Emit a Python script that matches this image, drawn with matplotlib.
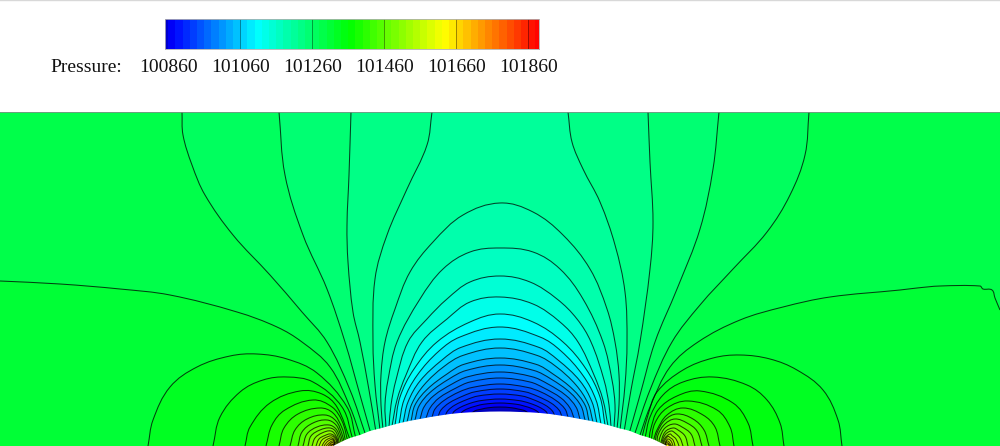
import numpy as np
import matplotlib
matplotlib.use('Agg')
import matplotlib.pyplot as plt
from matplotlib.colors import LinearSegmentedColormap, Normalize
from matplotlib.lines import Line2D
from matplotlib.patches import PathPatch
from matplotlib.path import Path

plt.rcParams['font.family'] = ['Liberation Serif', 'DejaVu Serif']

# colour bar
bar_ticks = [100860, 101060, 101260, 101460, 101660, 101860]
bar_edges = [100851] + list(range(100860, 101881, 20)) + [101890]
cmap_values = [100851, 100872, 101107, 101365, 101627, 101890]
cmap_colors = ['#0000c0', '#0000ff', '#00ffff', '#00ff00', '#ffff00', '#ff0000']
background_band = (101300, 101320)

# bump surface, left foot to right foot
surface = [(333, 446), (340, 442.5), (350, 438), (360, 435), (370, 431), (380, 428.5), (400, 423), (420, 419),
           (440, 415.5), (460, 413), (480, 412), (500, 411.5), (520, 412), (540, 413), (560, 415.5), (580, 419),
           (600, 423), (620, 428.5), (630, 431), (640, 435), (650, 438), (660, 442.5), (667, 446)]

# low pressure lobes above the bump
p100860 = [(470, 414.5), (475, 410.8), (482, 409), (488, 407.8), (500, 407), (512, 407.8), (518, 409), (525, 410.8), (530, 414.5)]
p100880 = [(460, 415), (462, 412), (467, 409), (476, 406), (484, 404.2), (500, 403), (516, 404.2), (524, 406), (533, 409),
           (538, 412), (540, 415)]
p100900 = [(452, 415.5), (454, 411.5), (461, 407), (471, 403), (481, 400.6), (500, 399), (519, 400.6), (529, 403), (539, 407),
           (546, 411.5), (548, 415.5)]
p100920 = [(445, 416), (448, 410.5), (455, 405), (467, 399.5), (478, 396), (500, 394), (522, 396), (533, 399.5), (545, 405),
           (552, 410.5), (555, 416)]
p100940 = [(438, 416.5), (441, 410), (449, 403), (463, 396), (475, 391.8), (500, 389), (525, 391.8), (537, 396), (551, 403),
           (559, 410), (562, 416.5)]
p100960 = [(432, 417), (435, 409), (444, 400.5), (459, 392), (473, 387.3), (500, 384), (527, 387.3), (541, 392), (556, 400.5),
           (565, 409), (568, 417)]
p100980 = [(426, 418), (430, 408), (439, 398), (456, 388), (470, 382), (500, 378), (530, 382), (544, 388), (561, 398),
           (570, 408), (574, 418)]
p101000 = [(420, 419), (424, 407), (434, 395.5), (452, 384), (468, 376.7), (500, 372), (532, 376.7), (548, 384), (566, 395.5),
           (576, 407), (580, 419)]
p101020 = [(415, 420), (419, 406), (430, 392.5), (449, 379), (466, 370.5), (500, 365), (534, 370.5), (551, 379), (570, 392.5),
           (581, 406), (585, 420)]
p101040 = [(411, 421), (415, 405), (427, 389.5), (447, 374), (464, 364.3), (500, 358), (536, 364.3), (553, 374), (573, 389.5),
           (585, 405), (589, 421)]
p101060 = [(407, 422), (412, 403.5), (424, 385), (444, 366.5), (463, 355.4), (500, 348), (537, 355.4), (556, 366.5), (576, 385),
           (588, 403.5), (593, 422)]
p101080 = [(403, 423), (408, 402), (420, 381), (442, 360), (461, 347.4), (500, 339), (539, 347.4), (558, 360), (580, 381),
           (592, 402), (597, 423)]
p101100 = [(399, 424), (404, 400), (417, 375.5), (439, 351), (460, 337), (500, 327), (540, 337), (561, 351), (583, 375.5),
           (596, 400), (601, 424)]
p101120 = [(395, 425), (400, 397), (414, 369), (437, 342), (470, 322), (500, 314), (533, 322), (563, 342), (586, 369),
           (600, 397), (605, 425)]
p101140 = [(392, 426), (397, 400), (406, 375), (422, 342), (447, 319), (470, 302), (500, 297), (533, 304), (560, 322),
           (578, 342), (594, 375), (603, 400), (608, 426)]
p101160 = [(389, 427), (391, 405), (396, 380), (408, 342), (427, 319), (447, 299), (470, 282), (500, 276), (530, 282),
           (557, 299), (577, 319), (591, 342), (604, 380), (609, 405), (611, 427)]
p101180 = [(386, 428), (385, 405), (388, 380), (397, 342), (420, 299), (443, 269), (470, 252), (500, 248), (533, 252),
           (560, 269), (583, 299), (603, 342), (612, 380), (615, 405), (614, 428)]
p101200 = [(383, 429), (381, 405), (381, 375), (385, 342), (395, 309), (410, 272), (433, 242), (463, 215), (500, 203),
           (533, 212), (563, 235), (590, 269), (607, 309), (615, 342), (619, 375), (619, 405), (617, 429)]
lobes = [(101200, p101200), (101180, p101180), (101160, p101160), (101140, p101140), (101120, p101120),
         (101100, p101100), (101080, p101080), (101060, p101060), (101040, p101040), (101020, p101020),
         (101000, p101000), (100980, p100980), (100960, p100960), (100940, p100940), (100920, p100920),
         (100900, p100900), (100880, p100880), (100860, p100860)]

# lines that leave through the top edge, or the sides
p101300_l = [(0, 281), (60, 284), (120, 289), (170, 295), (237, 312), (277, 327), (302, 342), (330, 367), (350, 407), (361, 438)]
p101300_r = [(1000, 310), (995, 298), (992, 290), (983, 289), (980, 286), (940, 286), (917, 288), (900, 290), (830, 297),
             (783, 307), (740, 320), (698, 342), (670, 367), (650, 407), (639, 438)]
p101280_l = [(182, 112), (183, 135), (192, 165), (205, 195), (233, 235), (270, 275), (302, 312), (327, 342), (350, 390), (366, 436)]
p101280_r = [(809, 112), (805, 155), (790, 195), (767, 232), (733, 269), (700, 305), (672, 342), (650, 390), (634, 436)]
p101260_l = [(279, 112), (285, 175), (303, 235), (327, 289), (345, 342), (360, 395), (371, 434)]
p101260_r = [(719, 112), (713, 169), (700, 229), (677, 289), (655, 342), (640, 395), (629, 434)]
p101240_l = [(351, 112), (349, 175), (347, 225), (348, 262), (353, 312), (360, 342), (369, 390), (376, 432)]
p101240_r = [(648, 112), (650, 162), (653, 222), (650, 269), (640, 342), (631, 390), (624, 432)]
p101220_l = [(432, 112), (427, 145), (407, 189), (387, 235), (375, 279), (373, 342), (375, 385), (380, 430)]
p101220_r = [(568, 112), (572, 142), (583, 169), (600, 202), (615, 245), (625, 292), (627, 342), (625, 385), (620, 430)]
open_lines = [(101300, p101300_l, p101300_r), (101280, p101280_l, p101280_r), (101260, p101260_l, p101260_r),
              (101240, p101240_l, p101240_r), (101220, p101220_l, p101220_r)]

# high pressure arcs round the left foot
a101320 = [(148, 446), (153, 420), (170, 387), (197, 367), (230, 356), (257, 354), (287, 359), (317, 373), (347, 407), (356, 439)]
a101340 = [(213, 446), (220, 417), (240, 392), (263, 380), (287, 377), (313, 382), (342, 407), (353, 440)]
a101360 = [(245, 446), (250, 427), (270, 403), (300, 391), (322, 394), (337, 407), (350.5, 441)]
a101380 = [(266, 446), (272, 425), (285, 410), (313, 400), (332, 407), (342, 421), (348, 442)]
a101400 = [(279, 446), (284, 428), (298, 414), (320, 408), (333, 413), (342, 428), (346, 443)]
a101420 = [(290, 446), (295, 430), (307, 419), (325, 415), (336, 421), (342, 434), (344.5, 444)]
a101440 = [(298, 446), (302, 432), (313, 423), (327, 420), (336, 425), (341, 436), (343, 444)]
a101460 = [(303, 446), (307, 434), (317, 427), (329, 425), (336, 429), (340, 438), (341.5, 445)]
a101480 = [(308, 446), (311, 436), (320, 430), (330, 428), (336, 432), (340, 445)]
a101500 = [(312, 446), (315, 438), (322, 433), (331, 431), (336, 436), (339, 445)]
a101520 = [(316, 446), (319, 439), (325, 435.5), (331, 434), (336, 438), (338, 445)]
a101540 = [(319, 446), (322, 440), (327, 437), (332, 436), (336, 440), (337, 445)]
a101560 = [(322, 446), (325, 441), (329, 438.5), (332, 438), (335, 441), (336, 445.5)]
a101580 = [(324, 446), (327, 442), (330, 440), (333, 439.5), (335, 445.5)]
a101600 = [(326, 446), (329, 443), (332, 441), (334, 441.5), (335, 446)]
a101620 = [(328, 446), (331, 443), (333, 442.5), (334.5, 446)]
a101640 = [(329.5, 446), (332, 444), (334, 446)]
a101660 = [(331, 446), (333, 444.5), (334, 446)]
left_arcs = [(101320, a101320), (101340, a101340), (101360, a101360), (101380, a101380), (101400, a101400),
             (101420, a101420), (101440, a101440), (101460, a101460), (101480, a101480), (101500, a101500),
             (101520, a101520), (101540, a101540), (101560, a101560), (101580, a101580), (101600, a101600),
             (101620, a101620), (101640, a101640), (101660, a101660)]

# and round the right foot
b101320 = [(842, 446), (838, 420), (823, 390), (797, 370), (770, 359), (740, 355), (713, 358), (683, 370), (657, 392),
           (648, 415), (642, 437)]
b101340 = [(784, 446), (780, 423), (767, 400), (747, 385), (713, 377), (683, 382), (663, 395), (650, 417), (645, 438)]
b101360 = [(753, 446), (748, 423), (733, 403), (700, 391), (677, 396), (658, 410), (650.5, 430), (649, 440)]
b101380 = [(734, 446), (730, 427), (717, 410), (688, 401), (667, 408), (655, 423), (651, 441)]
b101400 = [(720, 446), (715, 427), (703, 415), (683, 408), (667, 415), (657, 430), (653, 442)]
b101420 = [(709, 446), (704, 430), (693, 419), (677, 414), (665, 420), (657, 433), (655, 443)]
b101440 = [(702, 446), (697, 431), (687, 423), (675, 419), (665, 424), (658, 435), (657, 444)]
b101460 = [(695, 446), (691, 434), (682, 427), (674, 424), (665, 428), (660, 437), (658.5, 445)]
b101480 = [(688, 446), (685, 436), (678, 430), (673, 428), (665, 432), (660, 445)]
b101500 = [(683, 446), (680, 438), (675, 433), (671, 431), (665, 435), (661, 445)]
b101520 = [(679, 446), (676, 439), (672, 435.5), (670, 434), (665, 438), (662, 445)]
b101540 = [(675, 446), (673, 440), (670, 437.5), (668, 436.5), (665, 440), (663, 445)]
b101560 = [(673, 446), (671, 441), (668, 439), (666, 441), (664, 445.5)]
b101580 = [(671.5, 446), (669, 442), (667, 441), (665, 445.5)]
b101600 = [(670.5, 446), (668, 443), (666, 443), (665, 446)]
b101620 = [(669.5, 446), (667.5, 444), (665.5, 446)]
right_arcs = [(101320, b101320), (101340, b101340), (101360, b101360), (101380, b101380), (101400, b101400),
              (101420, b101420), (101440, b101440), (101460, b101460), (101480, b101480), (101500, b101500),
              (101520, b101520), (101540, b101540), (101560, b101560), (101580, b101580), (101600, b101600),
              (101620, b101620)]

left_foot = (333, 446)
right_foot = (667, 446)
corners = [(1000, 112), (0, 112)]

cmap_pos = [(v - cmap_values[0]) / (cmap_values[-1] - cmap_values[0]) for v in cmap_values]
cmap = LinearSegmentedColormap.from_list('tec', list(zip(cmap_pos, cmap_colors)), N=512)
norm = Normalize(cmap_values[0], cmap_values[-1])


def band_color(low):
    return cmap(norm(low + 10))


# smooth curve through the read points, handles scaled to each segment
def curve(points, start_code=Path.MOVETO):
    p = np.array(points, dtype=float)
    n = len(p)
    tang = []
    for i in range(n):
        d = p[min(i + 1, n - 1)] - p[max(i - 1, 0)]
        tang.append(d / max(np.hypot(*d), 1e-6))
    verts = [p[0]]
    codes = [start_code]
    for i in range(n - 1):
        h = np.hypot(*(p[i + 1] - p[i])) * 0.36
        verts += [p[i] + tang[i] * h, p[i + 1] - tang[i + 1] * h, p[i + 1]]
        codes += [Path.CURVE4, Path.CURVE4, Path.CURVE4]
    return verts, codes


def region(parts):
    # parts are curves or plain corner points, joined into one closed outline
    verts, codes = [], []
    for part in parts:
        v, c = curve(part, Path.LINETO if verts else Path.MOVETO)
        verts += v
        codes += c
    verts.append(verts[0])
    codes.append(Path.CLOSEPOLY)
    return Path(verts, codes)


fig = plt.figure(figsize=(10, 4.46), dpi=100)
ax = fig.add_axes([0, 0, 1, 334 / 446])
ax.set_xlim(0, 1000)
ax.set_ylim(446, 112)
ax.set_xticks([])
ax.set_yticks([])
ax.set_facecolor(band_color(background_band[0]))
for name, s in ax.spines.items():
    s.set_linewidth(0.6)
    s.set_color('#808f88' if name == 'top' else '#606060')
    s.set_zorder(6)
    s.set_visible(name in ('top', 'bottom'))

# floods, painted from the outside in
for level, left, right in open_lines:
    outline = [left, right[::-1]]
    if level == 101300:
        outline.append(corners)
    ax.add_patch(PathPatch(region(outline), fc=band_color(level - 20), ec='none', zorder=1))
for level, pts in lobes:
    ax.add_patch(PathPatch(region([pts]), fc=band_color(level - 20), ec='none', zorder=1))
for arcs, foot in ((left_arcs, left_foot), (right_arcs, right_foot)):
    for level, pts in arcs:
        ax.add_patch(PathPatch(region([pts, [foot]]), fc=band_color(level), ec='none', zorder=1))

# contour lines
all_lines = [pts for _, pts in lobes] + [pts for _, pts in left_arcs] + [pts for _, pts in right_arcs]
for _, left, right in open_lines:
    all_lines += [left, right]
for pts in all_lines:
    v, c = curve(pts)
    ax.add_patch(PathPatch(Path(v, c), fc='none', ec='black', lw=0.75, alpha=0.75, zorder=2))

# the bump itself
ax.add_patch(PathPatch(region([surface]), fc='white', ec='none', zorder=3))

# colour bar
cax = fig.add_axes([165 / 1000, (446 - 49) / 446, 374 / 1000, 30 / 446])
mids = [(bar_edges[i] + bar_edges[i + 1]) / 2 for i in range(len(bar_edges) - 1)]
cax.pcolormesh(bar_edges, [0, 1], [mids], cmap=cmap, norm=norm)
cax.vlines(bar_ticks[1:], 0, 1, color='black', lw=0.6, alpha=0.45)
cax.set_xlim(bar_edges[0], bar_edges[-1])
cax.set_yticks([])
cax.set_xticks(bar_ticks)
cax.set_xticklabels([str(t) for t in bar_ticks], fontsize=14)
cax.tick_params(axis='x', length=0, pad=7.5, colors='#111111')
for s in cax.spines.values():
    s.set_linewidth(0.6)
    s.set_color('#b0b0b0')

fig.text(50.5 / 1000, 1 - 68 / 446, 'Pressure:', fontsize=14, va='center', color='#111111')
fig.add_artist(Line2D([0, 1], [0.999, 0.999], color='#d8d8d8', lw=1))

fig.savefig('out.png', dpi=100)
